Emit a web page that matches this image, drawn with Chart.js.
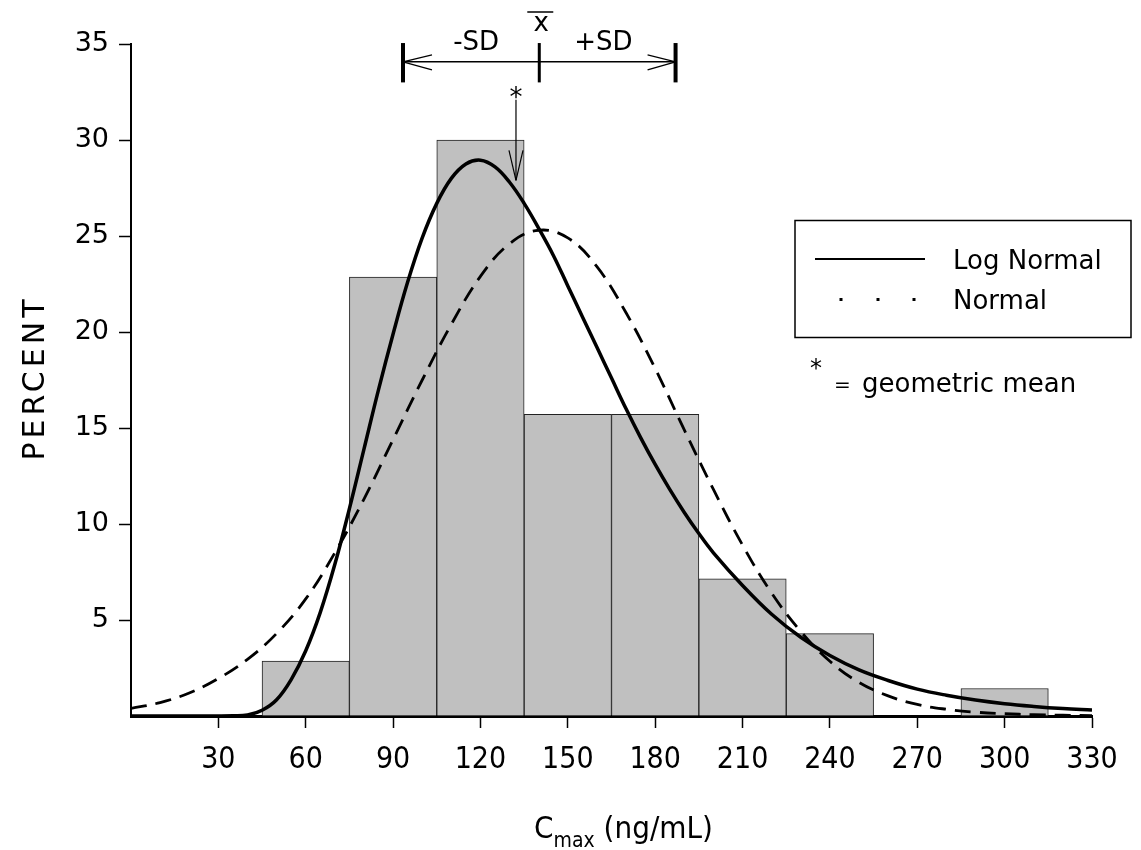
<!DOCTYPE html>
<html>
<head>
<meta charset="utf-8">
<script src="https://cdn.jsdelivr.net/npm/chart.js@4/dist/chart.umd.min.js"></script>
<style>
    html, body { margin: 0; padding: 0; background: #fff; }
    canvas { display: block; }
</style>
</head>
<body>
<canvas id="cmaxChart" width="1141" height="850"></canvas>
<script>
// histogram bins (centre of each 30 ng/mL class) and percent of subjects
const binCenters = [60, 90, 120, 150, 180, 210, 240, 300];
const binPercent = [2.86, 22.86, 30.0, 15.71, 15.71, 7.14, 4.29, 1.43];

// fitted log normal curve
const logNormalX = [0, 10, 20, 30, 35, 40, 45, 50, 55, 60, 65, 70, 75, 80, 85, 90, 95, 100, 105, 110, 115, 120, 125, 130, 135, 140, 145, 150, 155, 160, 165, 170, 175, 180, 185, 190, 195, 200, 210, 220, 230, 240, 250, 260, 270, 280, 290, 300, 310, 320, 330];
const logNormalY = [0, 0, 0, 0, 0.01, 0.05, 0.3, 0.85, 1.9, 3.4, 5.4, 7.9, 10.8, 13.9, 17.0, 19.9, 22.6, 24.9, 26.7, 28.0, 28.75, 28.95, 28.6, 27.8, 26.7, 25.4, 24.0, 22.4, 20.8, 19.2, 17.6, 16.0, 14.5, 13.1, 11.8, 10.6, 9.5, 8.5, 6.8, 5.3, 4.1, 3.15, 2.4, 1.85, 1.4, 1.08, 0.83, 0.64, 0.5, 0.39, 0.31];

// fitted normal curve
const normalX = [0, 10, 20, 30, 40, 50, 60, 70, 80, 90, 100, 110, 120, 130, 140, 150, 160, 170, 180, 190, 200, 210, 220, 230, 240, 250, 260, 270, 280, 290, 300, 310, 320, 330];
const normalY = [0.4, 0.7, 1.2, 1.95, 2.95, 4.3, 6.1, 8.5, 11.3, 14.4, 17.5, 20.4, 22.9, 24.6, 25.3, 24.9, 23.4, 21.0, 18.1, 14.9, 11.8, 8.9, 6.4, 4.4, 2.85, 1.75, 1.05, 0.6, 0.35, 0.2, 0.12, 0.07, 0.04, 0.02];

// summary statistics marked above the plot
const meanValue = 140.2;
const sdValue = 46.8;
const geoMeanValue = 132.2;

const xTicks = [30, 60, 90, 120, 150, 180, 210, 240, 270, 300, 330];
const yTicks = [5, 10, 15, 20, 25, 30, 35];

const WIDE = "'DejaVu Sans', Verdana, sans-serif";
const NARROW = "'Liberation Sans Narrow', 'DejaVu Sans Condensed', 'Arial Narrow', sans-serif";

/**
 * tick mark colour, hiding the one at zero
 * @param ctx {object} scriptable context
 * @return {string}
 */
function tickColor(ctx) {
    return ctx.tick && ctx.tick.value === 0 ? 'rgba(0,0,0,0)' : '#000';
}

function line(ctx, x1, y1, x2, y2) {
    ctx.beginPath();
    ctx.moveTo(x1, y1);
    ctx.lineTo(x2, y2);
    ctx.stroke();
}

// draws the SD bracket, geometric mean arrow, legend box and axis titles
const overlay = {
    id: 'overlay',
    afterDraw(chart) {
        const { ctx, chartArea: area, scales: { x, y } } = chart;
        ctx.save();
        ctx.strokeStyle = '#000';
        ctx.fillStyle = '#000';

        // mean +/- SD bracket
        const xl = x.getPixelForValue(meanValue - sdValue);
        const xm = x.getPixelForValue(meanValue);
        const xr = x.getPixelForValue(meanValue + sdValue);
        const yTop = y.getPixelForValue(35.05);
        const yBot = y.getPixelForValue(33.0);
        const yMid = y.getPixelForValue(34.07);
        ctx.lineWidth = 4;
        line(ctx, xl, yTop, xl, yBot);
        line(ctx, xr, yTop, xr, yBot);
        ctx.lineWidth = 3;
        line(ctx, xm, yTop, xm, yBot);
        ctx.lineWidth = 1.5;
        line(ctx, xl, yMid, xr, yMid);
        ctx.lineWidth = 1.2;
        line(ctx, xl, yMid, xl + 29, yMid - 7);
        line(ctx, xl, yMid, xl + 29, yMid + 8);
        line(ctx, xr, yMid, xr - 28, yMid - 7);
        line(ctx, xr, yMid, xr - 28, yMid + 8);

        ctx.font = `26px ${WIDE}`;
        ctx.textAlign = 'center';
        ctx.textBaseline = 'middle';
        ctx.fillText('-SD', (xl + xm) / 2 + 5, yTop);
        ctx.fillText('+SD', (xm + xr) / 2 - 4, yTop);
        ctx.fillText('x', xm + 2, 24);
        ctx.lineWidth = 1.5;
        line(ctx, xm - 12, 12, xm + 14, 12);

        // geometric mean arrow
        const xg = x.getPixelForValue(geoMeanValue);
        const yArrowTop = y.getPixelForValue(32.1);
        const yTip = y.getPixelForValue(27.9);
        ctx.font = `26px ${WIDE}`;
        ctx.textBaseline = 'alphabetic';
        ctx.fillText('*', xg, y.getPixelForValue(31.75));
        ctx.lineWidth = 1.2;
        line(ctx, xg, yArrowTop, xg, yTip);
        line(ctx, xg, yTip, xg - 7, yTip - 30);
        line(ctx, xg, yTip, xg + 7, yTip - 30);

        // legend box
        ctx.lineWidth = 1.5;
        ctx.strokeRect(795, 220.5, 336, 117);
        ctx.lineWidth = 2;
        line(ctx, 815, 259, 925, 259);
        [841, 878, 914].forEach(px => ctx.fillRect(px - 1.5, 298, 3, 3));
        ctx.font = `26px ${WIDE}`;
        ctx.textAlign = 'left';
        ctx.fillText('Log Normal', 953, 269);
        ctx.fillText('Normal', 953, 309);

        ctx.font = `24px ${WIDE}`;
        ctx.fillText('*', 810, 376);
        ctx.font = `20px ${WIDE}`;
        ctx.fillText('=', 834, 391);
        ctx.font = `26px ${WIDE}`;
        ctx.fillText('geometric mean', 862, 392);

        // y axis title
        ctx.save();
        ctx.translate(44, (area.top + area.bottom) / 2);
        ctx.rotate(-Math.PI / 2);
        ctx.font = `30px ${WIDE}`;
        ctx.letterSpacing = '4px';
        ctx.textAlign = 'center';
        ctx.fillText('PERCENT', 2, 0);
        ctx.restore();

        // x axis title with subscript
        const big = `31px ${NARROW}`;
        const small = `21px ${NARROW}`;
        ctx.font = big;
        const wC = ctx.measureText('C').width;
        const wRest = ctx.measureText(' (ng/mL)').width;
        ctx.font = small;
        const wSub = ctx.measureText('max').width;
        let px = (area.left + area.right) / 2 + 12 - (wC + wSub + wRest) / 2;
        ctx.textAlign = 'left';
        ctx.font = big;
        ctx.fillText('C', px, 838);
        px += wC;
        ctx.font = small;
        ctx.fillText('max', px, 847);
        px += wSub;
        ctx.font = big;
        ctx.fillText(' (ng/mL)', px, 838);

        ctx.restore();
    }
};

new Chart(document.getElementById('cmaxChart'), {
    type: 'bar',
    data: {
        datasets: [
            {
                type: 'line',
                label: 'Log Normal',
                data: logNormalX.map((v, i) => ({ x: v, y: logNormalY[i] })),
                borderColor: '#000',
                borderWidth: 3.5,
                pointRadius: 0,
                fill: false,
                tension: 0.4,
                order: 1
            },
            {
                type: 'line',
                label: 'Normal',
                data: normalX.map((v, i) => ({ x: v, y: normalY[i] })),
                borderColor: '#000',
                borderWidth: 2.8,
                borderDash: [16, 9],
                pointRadius: 0,
                fill: false,
                tension: 0.4,
                order: 2
            },
            {
                label: 'Percent',
                data: binCenters.map((v, i) => ({ x: v, y: binPercent[i] })),
                backgroundColor: '#c0c0c0',
                borderColor: '#222',
                borderWidth: 1,
                barPercentage: 1,
                categoryPercentage: 1,
                order: 3
            }
        ]
    },
    options: {
        responsive: false,
        animation: false,
        events: [],
        layout: { padding: { top: 44, right: 49, left: 0, bottom: 0 } },
        plugins: {
            legend: { display: false },
            tooltip: { enabled: false }
        },
        scales: {
            x: {
                type: 'linear',
                min: 0,
                max: 330,
                offset: false,
                afterBuildTicks: scale => {
                    scale.ticks = [0].concat(xTicks).map(v => ({ value: v }));
                },
                ticks: {
                    autoSkip: false,
                    maxRotation: 0,
                    padding: 14,
                    color: '#000',
                    font: { family: NARROW, size: 30 },
                    callback: v => (v === 0 ? '' : v)
                },
                grid: {
                    offset: false,
                    drawOnChartArea: false,
                    drawTicks: true,
                    tickLength: 12,
                    tickWidth: 1.5,
                    tickColor: tickColor
                },
                border: { display: true, color: '#000', width: 3 },
                afterFit: scale => { scale.height = 134; }
            },
            y: {
                min: 0,
                max: 35,
                afterBuildTicks: scale => {
                    scale.ticks = [0].concat(yTicks).map(v => ({ value: v }));
                },
                ticks: {
                    padding: 10,
                    color: '#000',
                    font: { family: WIDE, size: 27 },
                    callback: v => (v === 0 ? '' : v)
                },
                grid: {
                    drawOnChartArea: false,
                    drawTicks: true,
                    tickLength: 12,
                    tickWidth: 1.5,
                    tickColor: tickColor
                },
                border: { display: true, color: '#000', width: 2 },
                afterFit: scale => { scale.width = 131; }
            }
        }
    },
    plugins: [overlay]
});
</script>
</body>
</html>
